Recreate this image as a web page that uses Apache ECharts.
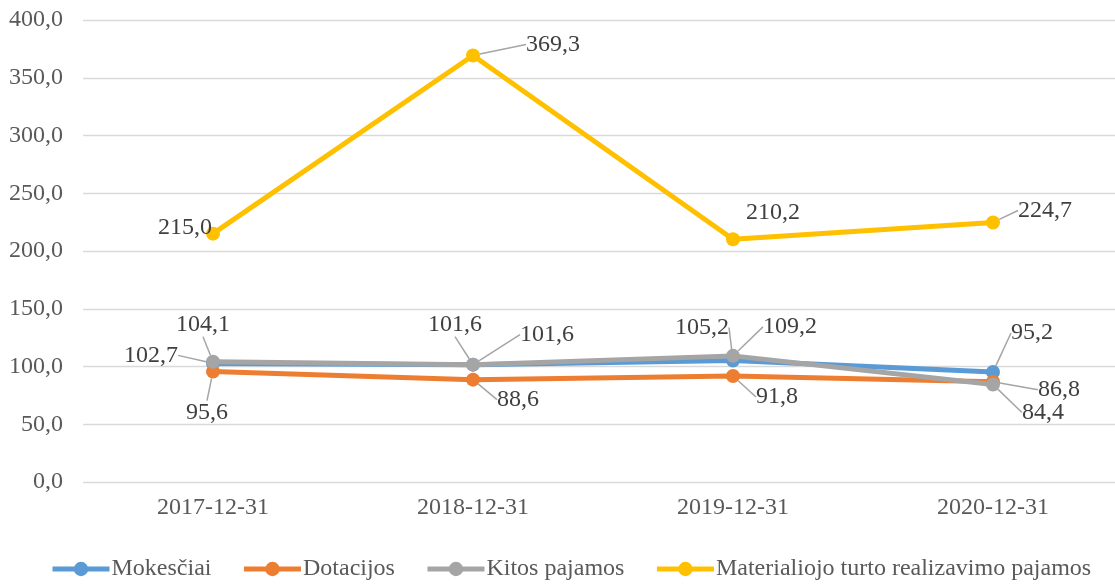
<!DOCTYPE html>
<html><head><meta charset="utf-8">
<script src="https://cdn.jsdelivr.net/npm/echarts@6/dist/echarts.min.js"></script>
<style>html,body{margin:0;padding:0;background:#fff}#c{width:1115px;height:584px}</style>
</head><body><div id="c"></div>
<script>
const categories = ['2017-12-31', '2018-12-31', '2019-12-31', '2020-12-31'];
const seriesNames = ['Mokesčiai', 'Dotacijos', 'Kitos pajamos', 'Materialiojo turto realizavimo pajamos'];
const mokesciai = [102.7, 101.6, 105.2, 95.2];
const dotacijos = [95.6, 88.6, 91.8, 86.8];
const kitos = [104.1, 101.6, 109.2, 84.4];
const materialiojo = [215.0, 369.3, 210.2, 224.7];

// label offsets (label centre relative to marker centre) — style only
const labelOffsets = [
  [[-62, -8], [74, -30], [-31, -33], [39, -39]],
  [[-6, 41], [45, 20], [44, 21], [66, 8]],
  [[-10, -37], [-18, -40], [57, -29], [50, 28]],
  [[-28, -6], [80, -11], [40, -27], [52, -12]]
];
const showLine = [
  [true, true, true, true],
  [true, true, true, true],
  [true, true, true, true],
  [false, true, false, true]
];
const colors = ['#5B9BD5', '#ED7D31', '#A5A5A5', '#FFC000'];
const FONT = '"Liberation Serif", "Times New Roman", serif';
const fmt = v => v.toFixed(1).replace('.', ',');

const chart = echarts.init(document.getElementById('c'), null, {renderer: 'canvas'});
const allData = [mokesciai, dotacijos, kitos, materialiojo];

const series = allData.map((arr, si) => ({
  name: seriesNames[si],
  type: 'line',
  data: arr.map((v, i) => ({
    value: v,
    labelLine: {show: showLine[si][i]}
  })),
  symbol: 'circle',
  symbolSize: 14,
  lineStyle: {width: 5, color: colors[si]},
  itemStyle: {color: colors[si]},
  label: {
    show: true,
    position: 'inside',
    formatter: p => fmt(p.value),
    fontFamily: FONT,
    fontSize: 24,
    color: '#404040'
  },
  labelLine: {show: true, lineStyle: {color: '#A5A5A5', width: 1.5}},
  labelLayout: function (params) {
    const off = labelOffsets[si][params.dataIndex];
    const r = params.rect;
    return {
      x: r.x + r.width / 2 + off[0],
      y: r.y + r.height / 2 + off[1],
      align: 'center',
      verticalAlign: 'middle'
    };
  },
  z: 2 + si
}));

chart.setOption({
  animation: false,
  color: colors,
  grid: {left: 83, width: 1040, top: 20, bottom: 102, outerBoundsMode: 'none', containLabel: false},
  legend: {
    top: 552,
    left: 45,
    itemWidth: 57,
    itemHeight: 18,
    itemGap: 30,
    lineStyle: {width: 5},
    textStyle: {fontFamily: FONT, fontSize: 24, color: '#595959', padding: [0, 0, 0, -3]},
    data: seriesNames
  },
  xAxis: {
    type: 'category',
    data: categories,
    boundaryGap: true,
    axisLine: {show: false},
    axisTick: {show: false},
    axisLabel: {fontFamily: FONT, fontSize: 24, color: '#595959', margin: 14}
  },
  yAxis: {
    type: 'value',
    min: 0, max: 400, interval: 50,
    axisLine: {show: false},
    axisTick: {show: false},
    splitLine: {lineStyle: {color: '#D9D9D9', width: 1.3}},
    axisLabel: {fontFamily: FONT, fontSize: 24, color: '#595959', margin: 20, formatter: v => fmt(v)}
  },
  series: series
});
</script>
</body></html>
